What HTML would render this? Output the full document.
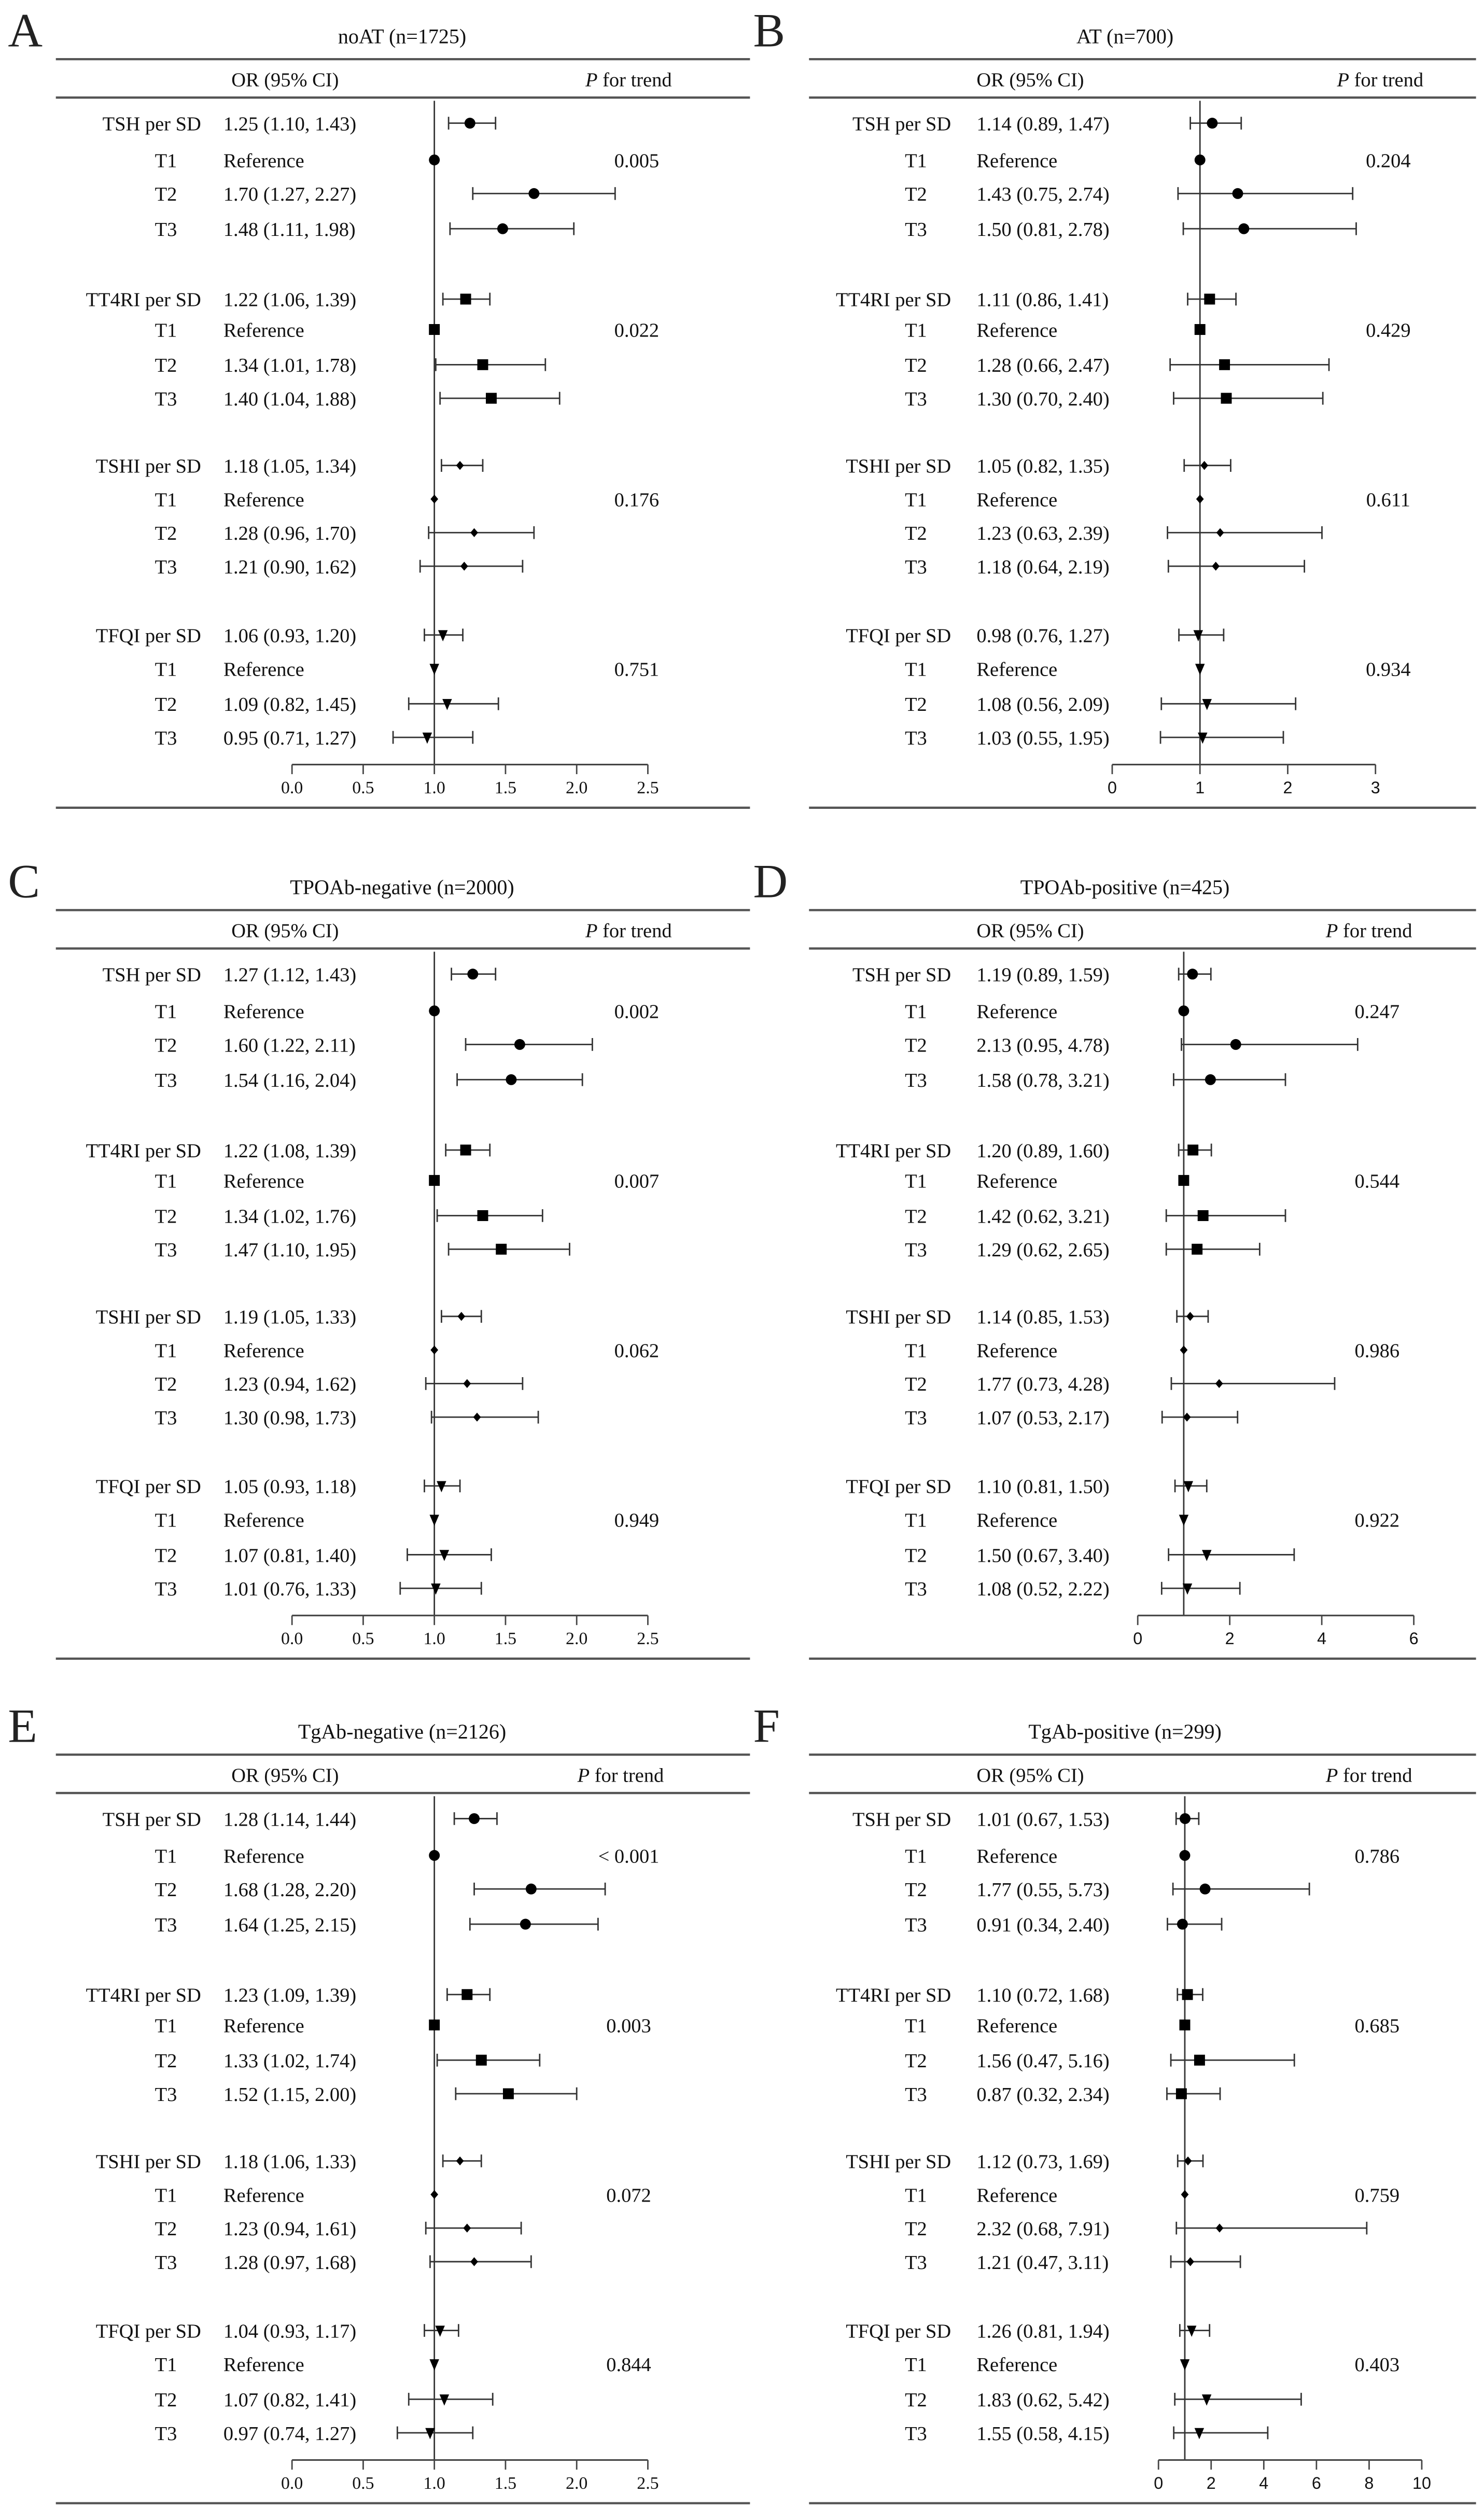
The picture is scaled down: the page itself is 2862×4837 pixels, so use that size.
<!DOCTYPE html>
<html><head><meta charset="utf-8"><title>Forest plots</title>
<style>html,body{margin:0;padding:0;background:#fff}svg{display:block}</style></head>
<body>
<svg id="fig" xmlns="http://www.w3.org/2000/svg" width="2862" height="4837" viewBox="0 0 930 1568" preserveAspectRatio="none"></svg>
<script>
const rowNames = ["TSH per SD","T1","T2","T3","TT4RI per SD","T1","T2","T3","TSHI per SD","T1","T2","T3","TFQI per SD","T1","T2","T3"];
const panelLetters = ["A","B","C","D","E","F"];
const panelTitles = ["noAT (n=1725)","AT (n=700)","TPOAb-negative  (n=2000)","TPOAb-positive  (n=425)","TgAb-negative  (n=2126)","TgAb-positive  (n=299)"];
const orA = [1.25,1,1.70,1.48, 1.22,1,1.34,1.40, 1.18,1,1.28,1.21, 1.06,1,1.09,0.95];
const loA = [1.10,null,1.27,1.11, 1.06,null,1.01,1.04, 1.05,null,0.96,0.90, 0.93,null,0.82,0.71];
const hiA = [1.43,null,2.27,1.98, 1.39,null,1.78,1.88, 1.34,null,1.70,1.62, 1.20,null,1.45,1.27];
const pA = ["0.005","0.022","0.176","0.751"];
const orB = [1.14,1,1.43,1.50, 1.11,1,1.28,1.30, 1.05,1,1.23,1.18, 0.98,1,1.08,1.03];
const loB = [0.89,null,0.75,0.81, 0.86,null,0.66,0.70, 0.82,null,0.63,0.64, 0.76,null,0.56,0.55];
const hiB = [1.47,null,2.74,2.78, 1.41,null,2.47,2.40, 1.35,null,2.39,2.19, 1.27,null,2.09,1.95];
const pB = ["0.204","0.429","0.611","0.934"];
const orC = [1.27,1,1.60,1.54, 1.22,1,1.34,1.47, 1.19,1,1.23,1.30, 1.05,1,1.07,1.01];
const loC = [1.12,null,1.22,1.16, 1.08,null,1.02,1.10, 1.05,null,0.94,0.98, 0.93,null,0.81,0.76];
const hiC = [1.43,null,2.11,2.04, 1.39,null,1.76,1.95, 1.33,null,1.62,1.73, 1.18,null,1.40,1.33];
const pC = ["0.002","0.007","0.062","0.949"];
const orD = [1.19,1,2.13,1.58, 1.20,1,1.42,1.29, 1.14,1,1.77,1.07, 1.10,1,1.50,1.08];
const loD = [0.89,null,0.95,0.78, 0.89,null,0.62,0.62, 0.85,null,0.73,0.53, 0.81,null,0.67,0.52];
const hiD = [1.59,null,4.78,3.21, 1.60,null,3.21,2.65, 1.53,null,4.28,2.17, 1.50,null,3.40,2.22];
const pD = ["0.247","0.544","0.986","0.922"];
const orE = [1.28,1,1.68,1.64, 1.23,1,1.33,1.52, 1.18,1,1.23,1.28, 1.04,1,1.07,0.97];
const loE = [1.14,null,1.28,1.25, 1.09,null,1.02,1.15, 1.06,null,0.94,0.97, 0.93,null,0.82,0.74];
const hiE = [1.44,null,2.20,2.15, 1.39,null,1.74,2.00, 1.33,null,1.61,1.68, 1.17,null,1.41,1.27];
const pE = ["< 0.001","0.003","0.072","0.844"];
const orF = [1.01,1,1.77,0.91, 1.10,1,1.56,0.87, 1.12,1,2.32,1.21, 1.26,1,1.83,1.55];
const loF = [0.67,null,0.55,0.34, 0.72,null,0.47,0.32, 0.73,null,0.68,0.47, 0.81,null,0.62,0.58];
const hiF = [1.53,null,5.73,2.40, 1.68,null,5.16,2.34, 1.69,null,7.91,3.11, 1.94,null,5.42,4.15];
const pF = ["0.786","0.685","0.759","0.403"];
const ticksA = ["0.0","0.5","1.0","1.5","2.0","2.5"];
const ticksB = ["0","1","2","3"];
const ticksD = ["0","2","4","6"];
const ticksF = ["0","2","4","6","8","10"];

const NS = "http://www.w3.org/2000/svg";
const svg = document.getElementById("fig");
function mk(tag, attrs, parent){const e=document.createElementNS(NS,tag);for(const k in attrs)e.setAttribute(k,attrs[k]);(parent||svg).appendChild(e);return e;}
function txt(s, attrs, parent){const e=mk("text",attrs,parent);e.textContent=s;return e;}

const layouts = [
 {ox:0,oy:0,or:orA,lo:loA,hi:hiA,p:pA,ticks:ticksA,tmax:2.5,left:35,right:470,lab:126,val:140,pc:399,tc:252,ax0:183,ax1:406,letX:5,sans:false},
 {ox:0,oy:0,or:orB,lo:loB,hi:hiB,p:pB,ticks:ticksB,tmax:3,left:507,right:925,lab:596,val:612,pc:870,tc:705,ax0:697,ax1:862,letX:472,sans:true},
 {ox:0,oy:532,or:orC,lo:loC,hi:hiC,p:pC,ticks:ticksA,tmax:2.5,left:35,right:470,lab:126,val:140,pc:399,tc:252,ax0:183,ax1:406,letX:5,sans:false},
 {ox:0,oy:532,or:orD,lo:loD,hi:hiD,p:pD,ticks:ticksD,tmax:6,left:507,right:925,lab:596,val:612,pc:863,tc:705,ax0:713,ax1:886,letX:472,sans:true},
 {ox:0,oy:1060,or:orE,lo:loE,hi:hiE,p:pE,ticks:ticksA,tmax:2.5,left:35,right:470,lab:126,val:140,pc:394,tc:252,ax0:183,ax1:406,letX:5,sans:false},
 {ox:0,oy:1060,or:orF,lo:loF,hi:hiF,p:pF,ticks:ticksF,tmax:10,left:507,right:925,lab:596,val:612,pc:863,tc:705,ax0:726,ax1:891,letX:472,sans:true}
];
const rowY = [77,100,121,143, 187,206,228,249, 291,312,333,354, 397,418,440,461];
const serif = '"Liberation Serif","Times New Roman",serif';
const sansF = '"Liberation Sans",Arial,sans-serif';

layouts.forEach((L,pi)=>{
  const g = mk("g",{transform:`translate(0,${L.oy})`});
  
  
  const x = v => L.ax0 + (v/L.tmax)*(L.ax1-L.ax0);
  const let_ = txt(panelLetters[pi],{x:L.letX,y:29,"font-family":serif,"font-size":30,fill:"#222"},g);
  
  
  const t = txt(panelTitles[pi],{x:L.tc,y:27,"text-anchor":"middle","font-family":serif,"font-size":13,fill:"#111","xml:space":"preserve"},g);
  
  
  [37,61,505].forEach((yy,i)=>{
    const l = mk("line",{x1:L.left,x2:L.right,y1:yy,y2:yy,stroke:"#555","stroke-width":1.4},g);
    
    
  });
  const h1 = txt("OR (95% CI)",{x:L.val+L.ox+ (L.sans?0:5),y:54,"font-family":serif,"font-size":12.5,fill:"#111"},g);
  
  
  const h2 = txt("",{x:L.pc+22,y:54,"text-anchor":"end","font-family":serif,"font-size":12.5,fill:"#111"},g);
  
  
  const ip = mk("tspan",{"font-style":"italic"},h2); ip.textContent="P";
  const rp = mk("tspan",{}, h2); rp.textContent=" for trend";
  // reference line
  const rl = mk("line",{x1:x(1),x2:x(1),y1:63,y2:478,stroke:"#333","stroke-width":0.9},g);
  
  
  // axis
  const ax = mk("line",{x1:L.ax0,x2:L.ax1,y1:478,y2:478,stroke:"#444","stroke-width":1},g);
  
  
  L.ticks.forEach(tk=>{
    const v = parseFloat(tk);
    const tl = mk("line",{x1:x(v),x2:x(v),y1:478,y2:484,stroke:"#444","stroke-width":0.9},g);
    
    
    const tt = txt(tk,{x:x(v),y:496,"text-anchor":"middle","font-family":L.sans?sansF:serif,"font-size":L.sans?10.5:11,fill:"#111"},g);
    
    
  });
  rowNames.forEach((nm,i)=>{
    const y = rowY[i];
    const isHead = i%4===0;
    const lt = txt(nm,{x:isHead?L.lab:L.lab-22,y:y+4.5,"text-anchor":isHead?"end":"middle","font-family":serif,"font-size":12.5,fill:"#111"},g);
    
    
    const ref = L.lo[i]===null;
    const vs = ref ? "Reference" : `${L.or[i].toFixed(2)} (${L.lo[i].toFixed(2)}, ${L.hi[i].toFixed(2)})`;
    const vt = txt(vs,{x:L.val,y:y+4.5,"font-family":serif,"font-size":12.5,fill:"#111"},g);
    
    
    if(!ref){
      const ci = mk("path",{d:`M${x(L.lo[i])} ${y}H${x(L.hi[i])}M${x(L.lo[i])} ${y-4}V${y+4}M${x(L.hi[i])} ${y-4}V${y+4}`,stroke:"#333","stroke-width":0.9,fill:"none"},g);
      
      
    }
    const cx = x(L.or[i]); const grp = Math.floor(i/4);
    let m;
    if(grp===0) m = mk("circle",{cx:cx,cy:y,r:3.4,fill:"#000"},g);
    else if(grp===1) m = mk("rect",{x:cx-3.4,y:y-3.4,width:6.8,height:6.8,fill:"#000"},g);
    else if(grp===2) m = mk("path",{d:`M${cx} ${y-2.8}L${cx+2.4} ${y}L${cx} ${y+2.8}L${cx-2.4} ${y}Z`,fill:"#000"},g);
    else m = mk("path",{d:`M${cx-3} ${y-3}L${cx+3} ${y-3}L${cx} ${y+4}Z`,fill:"#000"},g);
    
    
    if(i%4===1){
      const pt = txt(L.p[grp],{x:L.pc,y:y+4.5,"text-anchor":"middle","font-family":serif,"font-size":12.5,fill:"#111"},g);
      
      
    }
  });
});
</script>
</body></html>
